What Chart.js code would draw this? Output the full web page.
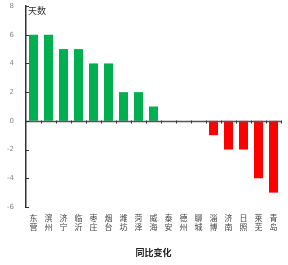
<!DOCTYPE html>
<html>
<head>
<meta charset="utf-8">
<script src="https://cdn.jsdelivr.net/npm/chart.js@4"></script>
<style>
  html, body { margin: 0; padding: 0; background: #fff; }
  #wrap { width: 288px; height: 265px; }
</style>
</head>
<body>
<div id="wrap"><canvas id="chart"></canvas></div>
<script>
const cities = ["东营", "滨州", "济宁", "临沂", "枣庄", "烟台", "潍坊", "菏泽", "威海",
                "泰安", "德州", "聊城", "淄博", "济南", "日照", "莱芜", "青岛"];
const changeDays = [6, 6, 5, 5, 4, 4, 2, 2, 1, 0, 0, 0, -1, -2, -2, -4, -5];
const yTicks = [-6, -4, -2, 0, 2, 4, 6, 8];

const barColors = changeDays.map(v => v >= 0 ? "#00B050" : "#FF0000");

// zero line with small ticks, inner y ticks, unit label
const axisDecor = {
    id: "axisDecor",
    afterDatasetsDraw(chart) {
        const ctx = chart.ctx;
        const x = chart.scales.x, y = chart.scales.y;
        const area = chart.chartArea;
        const y0 = Math.round(y.getPixelForValue(0)) + 0.5;
        const step = x.getPixelForValue(1) - x.getPixelForValue(0);
        ctx.save();
        ctx.strokeStyle = "#555";
        ctx.lineWidth = 1.5;
        ctx.beginPath();
        ctx.moveTo(area.left, y0);
        ctx.lineTo(area.right, y0);
        ctx.stroke();
        ctx.lineWidth = 1;
        ctx.strokeStyle = "#333";
        for (let i = 0; i < cities.length; i++) {
            const px = Math.round(x.getPixelForValue(i) + step / 2) + 0.5;
            ctx.beginPath();
            ctx.moveTo(px, y0 - 1);
            ctx.lineTo(px, y0 + 2);
            ctx.stroke();
        }
        yTicks.forEach(v => {
            const py = Math.round(y.getPixelForValue(v)) + 0.5;
            ctx.beginPath();
            ctx.moveTo(area.left, py);
            ctx.lineTo(area.left + 3, py);
            ctx.stroke();
        });
        ctx.fillStyle = "#333";
        ctx.font = "9px 'Noto Sans CJK SC'";
        ctx.textBaseline = "top";
        ctx.fillText("天数", area.left + 2, area.top);
        ctx.restore();
    }
};

new Chart(document.getElementById("chart").getContext("2d"), {
    type: "bar",
    data: {
        labels: cities.map(c => c.split("")),
        datasets: [{
            data: changeDays,
            backgroundColor: barColors,
            categoryPercentage: 1,
            barPercentage: 0.6
        }]
    },
    options: {
        responsive: true,
        maintainAspectRatio: false,
        animation: false,
        layout: { padding: { top: 6, right: 7, left: 0, bottom: 0 } },
        scales: {
            x: {
                afterFit: axis => { axis.height = 58; },
                grid: { display: false, drawTicks: false },
                border: { display: false },
                ticks: {
                    color: "#444",
                    font: { size: 8, family: "'Noto Sans CJK SC'" },
                    maxRotation: 0,
                    autoSkip: false,
                    padding: 6
                },
                title: {
                    display: true,
                    text: "同比变化",
                    color: "#222",
                    font: { size: 9, weight: "bold", family: "'Noto Sans CJK SC'" },
                    padding: { top: 10, bottom: 7 }
                }
            },
            y: {
                min: -6,
                max: 8,
                afterFit: axis => { axis.width = 26; axis.paddingTop = 0; },
                afterBuildTicks: axis => { axis.ticks = yTicks.map(v => ({ value: v })); },
                grid: { display: false, drawTicks: false },
                border: { display: true, color: "#333", width: 1.5 },
                ticks: {
                    color: "#888",
                    font: { size: 7, family: "'DejaVu Sans'" },
                    padding: 12
                }
            }
        },
        plugins: {
            legend: { display: false },
            tooltip: { enabled: false }
        }
    },
    plugins: [axisDecor]
});
</script>
</body>
</html>
